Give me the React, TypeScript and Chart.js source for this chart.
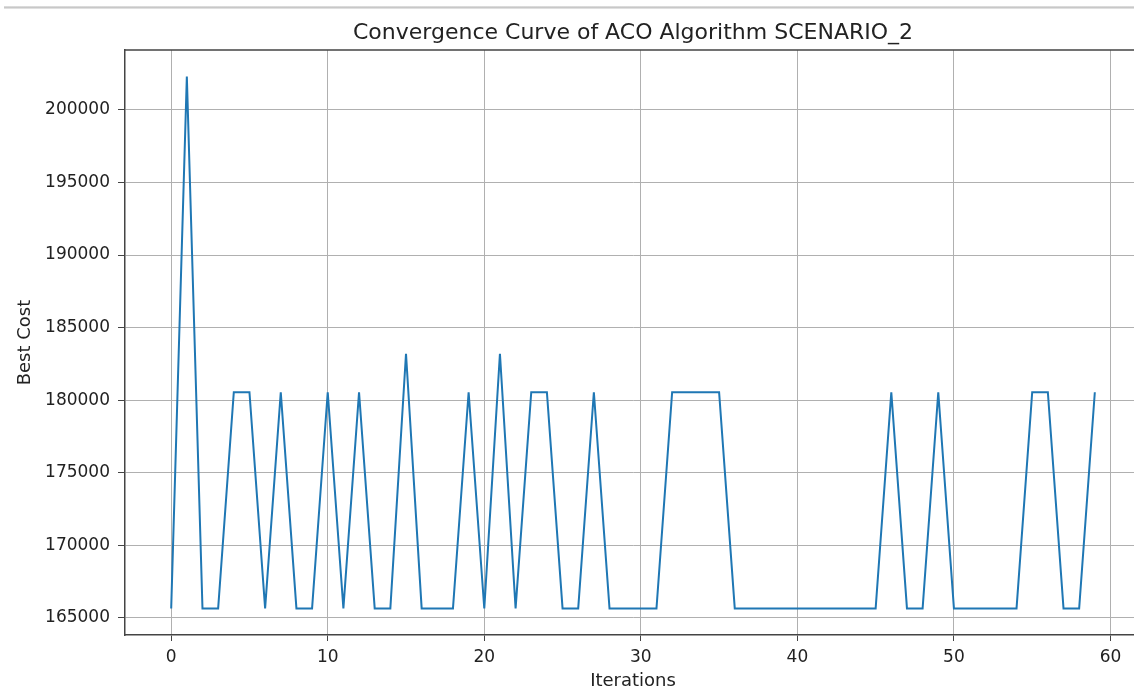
import React, { useEffect, useRef } from "react";
import { Chart, registerables } from "chart.js";

Chart.register(...registerables);

const TITLE = "Convergence Curve of ACO Algorithm SCENARIO_2";
const X_LABEL = "Iterations";
const Y_LABEL = "Best Cost";

const iterations: number[] = [
  0, 1, 2, 3, 4, 5, 6, 7, 8, 9,
  10, 11, 12, 13, 14, 15, 16, 17, 18, 19,
  20, 21, 22, 23, 24, 25, 26, 27, 28, 29,
  30, 31, 32, 33, 34, 35, 36, 37, 38, 39,
  40, 41, 42, 43, 44, 45, 46, 47, 48, 49,
  50, 51, 52, 53, 54, 55, 56, 57, 58, 59,
];

const bestCost: number[] = [
  165650, 202300, 165650, 165650, 180550, 180550, 165650, 180550, 165650, 165650,
  180550, 165650, 180550, 165650, 165650, 183200, 165650, 165650, 165650, 180550,
  165650, 183200, 165650, 180550, 180550, 165650, 165650, 180550, 165650, 165650,
  165650, 165650, 180550, 180550, 180550, 180550, 165650, 165650, 165650, 165650,
  165650, 165650, 165650, 165650, 165650, 165650, 180550, 165650, 165650, 180550,
  165650, 165650, 165650, 165650, 165650, 180550, 180550, 165650, 165650, 180550,
];

const xTicks: number[] = [0, 10, 20, 30, 40, 50, 60];
const yTicks: number[] = [165000, 170000, 175000, 180000, 185000, 190000, 195000, 200000];

const FONT = "'DejaVu Sans', sans-serif";

const topSpine = {
  id: "topSpine",
  afterLayout(chart: any) {
    const tb = chart.titleBlock;
    if (tb) {
      tb.left = chart.chartArea.left;
      tb.right = chart.chartArea.right;
      tb.width = tb.right - tb.left;
    }
  },
  afterDraw(chart: any) {
    const { ctx, chartArea } = chart;
    ctx.save();
    ctx.strokeStyle = "#444";
    ctx.lineWidth = 1.5;
    ctx.beginPath();
    ctx.moveTo(chartArea.left, chartArea.top);
    ctx.lineTo(chartArea.right, chartArea.top);
    ctx.moveTo(chartArea.right, chartArea.top);
    ctx.lineTo(chartArea.right, chartArea.bottom);
    ctx.stroke();
    ctx.restore();
  },
};

export default function App() {
  const ref = useRef<HTMLCanvasElement>(null);

  useEffect(() => {
    document.body.style.margin = "0";
    const xMin = iterations[0] - 0.05 * (iterations[iterations.length - 1] - iterations[0]);
    const xMax = iterations[iterations.length - 1] + 0.05 * (iterations[iterations.length - 1] - iterations[0]);
    const yLo = Math.min(...bestCost);
    const yHi = Math.max(...bestCost);
    const yMin = yLo - 0.05 * (yHi - yLo);
    const yMax = yHi + 0.05 * (yHi - yLo);

    const chart = new Chart(ref.current!, {
      type: "line",
      data: {
        datasets: [
          {
            data: iterations.map((x, i) => ({ x, y: bestCost[i] })),
            borderColor: "#1f77b4",
            borderWidth: 2,
            pointRadius: 0,
            tension: 0,
            fill: false,
          },
        ],
      },
      plugins: [topSpine],
      options: {
        responsive: false,
        animation: false,
        layout: { padding: { left: 0, right: 9, top: 0, bottom: 0 } },
        plugins: {
          legend: { display: false },
          tooltip: { enabled: false },
          title: {
            display: true,
            text: TITLE,
            color: "#222",
            font: { family: FONT, size: 22, weight: "normal" },
            padding: { top: 20.5, bottom: 3.1 },
          },
        },
        scales: {
          x: {
            type: "linear",
            min: xMin,
            max: xMax,
            afterFit: (s: any) => {
              s.height = 65;
            },
            afterBuildTicks: (s: any) => {
              s.ticks = xTicks.map((v) => ({ value: v }));
            },
            ticks: {
              color: "#222",
              font: { family: FONT, size: 17 },
              padding: 6,
              maxRotation: 0,
              callback: (v: any) => String(v),
            },
            grid: {
              color: "#b0b0b0",
              lineWidth: 1,
              drawTicks: true,
              tickLength: 6,
              tickColor: "#444",
            },
            border: { display: true, color: "#444", width: 1.5 },
            title: {
              display: true,
              text: X_LABEL,
              color: "#222",
              font: { family: FONT, size: 18 },
              padding: { top: 0, bottom: 8.2 },
            },
          },
          y: {
            type: "linear",
            min: yMin,
            max: yMax,
            afterFit: (s: any) => {
              s.width = 125;
            },
            afterBuildTicks: (s: any) => {
              s.ticks = yTicks.map((v) => ({ value: v }));
            },
            ticks: {
              color: "#222",
              font: { family: FONT, size: 17 },
              padding: 8,
              callback: (v: any) => String(v),
            },
            grid: {
              color: "#b0b0b0",
              lineWidth: 1,
              drawTicks: true,
              tickLength: 7,
              tickColor: "#444",
            },
            border: { display: true, color: "#444", width: 1.5 },
            title: {
              display: true,
              text: Y_LABEL,
              color: "#222",
              font: { family: FONT, size: 18 },
              padding: { top: 14.2, bottom: 0 },
            },
          },
        },
      },
    });
    return () => chart.destroy();
  }, []);

  return (
    <div
      style={{
        position: "fixed",
        left: 0,
        top: 0,
        width: 1134,
        height: 688,
        overflow: "hidden",
        background: "#fff",
      }}
    >
      <div
        style={{
          position: "absolute",
          left: 4,
          right: 0,
          top: 6,
          height: 3,
          background: "linear-gradient(#e4e4e4, #c8c8c8, #ececec)",
        }}
      />
      <canvas
        ref={ref}
        width={1150}
        height={700}
        style={{ width: 1150, height: 700, display: "block" }}
      />
    </div>
  );
}
